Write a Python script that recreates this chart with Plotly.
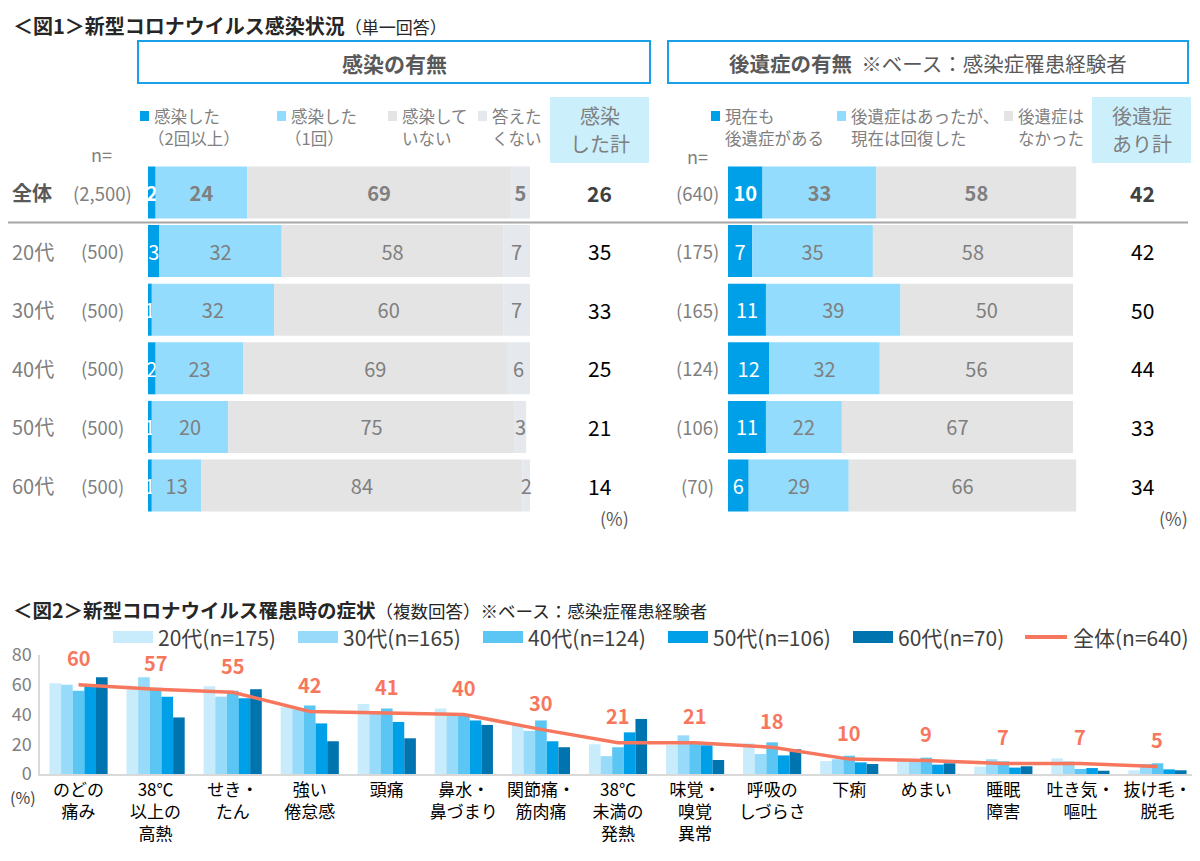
import plotly.graph_objects as go
import numpy as np

W, H = 1200, 861
OFF = 8  # page body margin compensation
FONT = "Noto Sans CJK JP"

# ---------------- Figure 1 data ----------------
rows = ["全体", "20代", "30代", "40代", "50代", "60代"]
n_left = ["(2,500)", "(500)", "(500)", "(500)", "(500)", "(500)"]
inf_2plus = [2, 3, 1, 2, 1, 1]
inf_1 = [24, 32, 32, 23, 20, 13]
inf_none = [69, 58, 60, 69, 75, 84]
inf_noans = [5, 7, 7, 6, 3, 2]
inf_total = [26, 35, 33, 25, 21, 14]
inf_names = ["感染した（2回以上）", "感染した（1回）", "感染していない", "答えたくない"]

n_right = ["(640)", "(175)", "(165)", "(124)", "(106)", "(70)"]
seq_now = [10, 7, 11, 12, 11, 6]
seq_recovered = [33, 35, 39, 32, 22, 29]
seq_none = [58, 58, 50, 56, 67, 66]
seq_total = [42, 42, 50, 44, 33, 34]
seq_names = ["現在も後遺症がある", "後遺症はあったが、現在は回復した", "後遺症はなかった"]

# ---------------- Figure 2 data ----------------
symptoms = ["のどの<br>痛み", "38℃<br>以上の<br>高熱", "せき・<br>たん", "強い<br>倦怠感", "頭痛",
            "鼻水・<br>鼻づまり", "関節痛・<br>筋肉痛", "38℃<br>未満の<br>発熱", "味覚・<br>嗅覚<br>異常",
            "呼吸の<br>しづらさ", "下痢", "めまい", "睡眠<br>障害", "吐き気・<br>嘔吐", "抜け毛・<br>脱毛"]
age_names = ["20代(n=175)", "30代(n=165)", "40代(n=124)", "50代(n=106)", "60代(n=70)"]
s20 = [61, 57, 59, 45, 47, 44, 33, 20, 19.5, 20.6, 8.7, 9.4, 4.9, 10.5, 2.5]
s30 = [60, 65, 52, 43.5, 41, 41, 29, 12, 26, 13.4, 9.9, 9.4, 9.9, 8.5, 6.7]
s40 = [56, 58, 56, 46, 44, 40, 36, 18, 20.6, 21.3, 12.3, 11, 8.5, 3.4, 7.2]
s50 = [59, 52, 51, 34, 35, 36, 22, 28, 19.3, 12.5, 7.8, 6.3, 4.3, 4, 3.1]
s60 = [65, 38, 57, 22, 24, 33, 18, 37, 9.4, 16.6, 6.7, 7.2, 5.2, 2.2, 2.5]
overall = [60, 57, 55, 42, 41, 40, 30, 21, 21, 18, 10, 9, 7, 7, 5]
overall_name = "全体(n=640)"

inf_colors = ["#00A0E9", "#93DCFD", "#E4E4E4", "#E5E8ED"]
seq_colors = ["#00A0E9", "#93DCFD", "#E4E4E4"]
age_colors = ["#C8ECFC", "#97DAF9", "#5BC6F3", "#00A0E9", "#0074AF"]
line_color = "#F7775E"
GRAY = "#7F7F7F"


def xp(x):
    return (x - OFF) / W


def yp(y):
    return 1 - (y - OFF) / H


fig = go.Figure()

row_idx = list(range(len(rows)))
BW = 0.888


def stacked(series, colors, names, xa, ya):
    base = np.zeros(len(rows))
    for k, (vals, col, nm) in enumerate(zip(series, colors, names)):
        vals = np.array(vals, dtype=float)
        txt = [("<b>%d</b>" % v) if i == 0 else ("%d" % v) for i, v in enumerate(vals)]
        tcol = "#FFFFFF" if k == 0 else GRAY
        fig.add_trace(go.Bar(
            y=row_idx, x=vals, base=base.copy(), orientation="h", name=nm,
            marker=dict(color=col, line=dict(width=0)), width=BW, offset=-BW / 2,
            text=txt, textposition="inside", insidetextanchor="middle",
            textfont=dict(color=tcol, size=20, family=FONT), constraintext="none",
            xaxis=xa, yaxis=ya, showlegend=False, hoverinfo="skip", cliponaxis=False))
        base = base + vals


stacked([inf_2plus, inf_1, inf_none, inf_noans], inf_colors, inf_names, "x", "y")
stacked([seq_now, seq_recovered, seq_none], seq_colors, seq_names, "x2", "y2")

# Figure 2 bars
for vals, col, nm in zip([s20, s30, s40, s50, s60], age_colors, age_names):
    fig.add_trace(go.Bar(x=symptoms, y=vals, name=nm, marker=dict(color=col, line=dict(width=0)),
                         xaxis="x3", yaxis="y3", showlegend=False))
fig.add_trace(go.Scatter(x=symptoms, y=overall, name=overall_name, mode="lines",
                         line=dict(color=line_color, width=3.5), xaxis="x3", yaxis="y3",
                         showlegend=False))

row_top = 163.2
row_bot = 514.8
ydom = [yp(row_bot), yp(row_top)]

fig.update_layout(
    width=W, height=H, margin=dict(l=0, r=0, t=0, b=0, autoexpand=False),
    paper_bgcolor="white", plot_bgcolor="white",
    barmode="group", bargap=0.245, bargroupgap=0,
    uniformtext=dict(mode="show", minsize=20),
    font=dict(family=FONT, color="#404040"),
    xaxis=dict(domain=[xp(148), xp(530)], range=[0, 100], visible=False, automargin=False),
    yaxis=dict(domain=ydom, range=[5.5, -0.5], visible=False, automargin=False),
    xaxis2=dict(domain=[xp(728), xp(728 + 345 * 1.01)], range=[0, 101], visible=False, anchor="y2",
                automargin=False),
    yaxis2=dict(domain=ydom, range=[5.5, -0.5], visible=False, anchor="x2", automargin=False),
    xaxis3=dict(domain=[xp(40), xp(1196)], anchor="y3", type="category", automargin=False,
                showline=True, linecolor="#D9D9D9", linewidth=1.5, ticks="",
                tickfont=dict(size=17, color="#000000", family=FONT)),
    yaxis3=dict(domain=[yp(774), yp(655)], anchor="x3", range=[0, 80], dtick=20, automargin=False,
                showline=True, linecolor="#D9D9D9", linewidth=1.5, showgrid=False,
                zeroline=False, ticks="", ticklabelstandoff=3,
                tickfont=dict(size=18, color="#808080", family=FONT)),
    showlegend=False,
)

ann = []
shapes = []


def text(x, y, s, size=16, color=GRAY, xanchor="left", yanchor="middle", bold=False):
    if bold:
        s = "<b>" + s + "</b>"
    ann.append(dict(x=xp(x), y=yp(y), xref="paper", yref="paper", text=s, showarrow=False,
                    xanchor=xanchor, yanchor=yanchor, font=dict(size=size, color=color, family=FONT)))


# Titles
text(11, 9, "<b>＜図1＞新型コロナウイルス感染状況</b><span style='font-size:17px'>（単一回答）</span>",
     size=20, color="#262626", yanchor="top")
text(11, 609, "<b>＜図2＞新型コロナウイルス罹患時の症状</b><span style='font-size:17.5px'>（複数回答）※ベース：感染症罹患経験者</span>",
     size=19.5, color="#262626")

# Section boxes
shapes.append(dict(type="rect", xref="paper", yref="paper", x0=xp(138), x1=xp(650), y0=yp(83), y1=yp(41),
                   line=dict(color="#1AA0E6", width=2)))
shapes.append(dict(type="rect", xref="paper", yref="paper", x0=xp(668), x1=xp(1188), y0=yp(83), y1=yp(41),
                   line=dict(color="#1AA0E6", width=2)))
text(394, 63, "感染の有無", size=21, color="#595959", xanchor="center", bold=True)
text(928, 63, "<b>後遺症の有無</b>  ※ベース：感染症罹患経験者", size=20.5, color="#595959", xanchor="center")

# Total header boxes
for x0, x1, l1, l2 in [(550, 649, "感染", "した計"), (1092, 1191, "後遺症", "あり計")]:
    shapes.append(dict(type="rect", xref="paper", yref="paper", x0=xp(x0), x1=xp(x1), y0=yp(163), y1=yp(97),
                       fillcolor="#CCEFFC", line=dict(width=0), layer="below"))
    text((x0 + x1) / 2, 116, l1, size=20, xanchor="center")
    text((x0 + x1) / 2, 143, l2, size=20, xanchor="center")

# Top legends
leg1 = [(140, "感染した", "（2回以上）", -6), (277, "感染した", "（1回）", -6),
        (388, "感染して", "いない", 0), (478, "答えた", "くない", 0)]
for (sx, l1, l2, dx), col in zip(leg1, inf_colors):
    shapes.append(dict(type="rect", xref="paper", yref="paper", x0=xp(sx), x1=xp(sx + 9),
                       y0=yp(121), y1=yp(111), fillcolor=col, line=dict(width=0)))
    text(sx + 12, 116, l1, size=16.5)
    text(sx + 12 + dx, 138, l2, size=16.5)
leg2 = [(711, "現在も", "後遺症がある"), (837, "後遺症はあったが、", "現在は回復した"), (1004, "後遺症は", "なかった")]
for (sx, l1, l2), col in zip(leg2, seq_colors):
    shapes.append(dict(type="rect", xref="paper", yref="paper", x0=xp(sx), x1=xp(sx + 9),
                       y0=yp(121), y1=yp(111), fillcolor=col, line=dict(width=0)))
    text(sx + 12, 116, l1, size=16.5)
    text(sx + 12, 138, l2, size=16.5)

text(101, 154, "n=", size=18, xanchor="center")
text(697, 156, "n=", size=18, xanchor="center")

# Row labels / n / totals
for i in range(len(rows)):
    yc = 192.5 + 58.6 * i
    bold = i == 0
    text(10, yc, rows[i], size=20, color="#595959" if bold else GRAY, bold=bold)
    text(102, yc, n_left[i], size=18.5, xanchor="center")
    text(697, yc, n_right[i], size=18.5, xanchor="center")
    text(599, yc, str(inf_total[i]), size=21, color="#404040" if bold else "#000000",
         xanchor="center", bold=bold)
    text(1142, yc, str(seq_total[i]), size=21, color="#404040" if bold else "#000000",
         xanchor="center", bold=bold)

shapes.append(dict(type="line", xref="paper", yref="paper", x0=xp(0), x1=xp(1188), y0=yp(222.5), y1=yp(222.5),
                   line=dict(color="#A6A6A6", width=2)))
text(614, 518, "(%)", size=18, color="#595959", xanchor="center")
text(1173, 518, "(%)", size=18, color="#595959", xanchor="center")

# Figure 2: overall labels
for cat, v in zip(symptoms, overall):
    ann.append(dict(x=cat, y=v, xref="x3", yref="y3", text="<b>%d</b>" % v, showarrow=False,
                    yshift=27, font=dict(size=20, color=line_color, family=FONT)))
text(23, 797, "(%)", size=16, color="#404040", xanchor="center")

# Figure 2 legend (manual)
leg_x = [113, 298, 483, 668, 853]
for sx, col, nm in zip(leg_x, age_colors, age_names):
    shapes.append(dict(type="rect", xref="paper", yref="paper", x0=xp(sx), x1=xp(sx + 40),
                       y0=yp(643), y1=yp(631), fillcolor=col, line=dict(width=0)))
    text(sx + 43, 637, nm, size=21, color="#404040")
shapes.append(dict(type="line", xref="paper", yref="paper", x0=xp(1025), x1=xp(1067), y0=yp(637), y1=yp(637),
                   line=dict(color=line_color, width=4)))
text(1071, 637, overall_name, size=21, color="#404040")

fig.update_layout(annotations=ann, shapes=shapes)
fig.write_html("out.html")
